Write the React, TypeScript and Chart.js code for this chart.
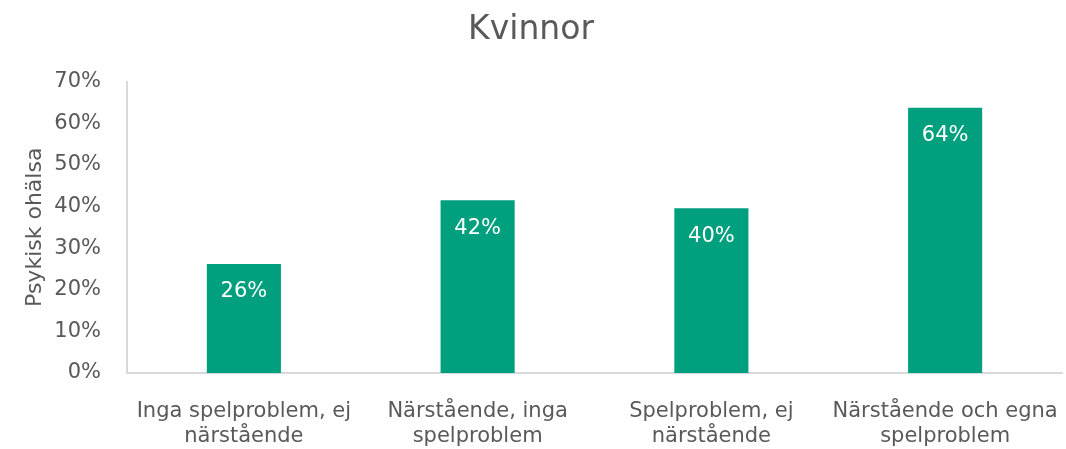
import React, { useEffect, useRef } from "react";
import { Chart, registerables } from "chart.js";

Chart.register(...registerables);

const categories: string[][] = [
  ["Inga spelproblem, ej", "närstående"],
  ["Närstående, inga", "spelproblem"],
  ["Spelproblem, ej", "närstående"],
  ["Närstående och egna", "spelproblem"],
];
const values: number[] = [26.2, 41.5, 39.6, 63.7];
const valueLabels: string[] = ["26%", "42%", "40%", "64%"];
const chartTitle = "Kvinnor";
const yTitle = "Psykisk ohälsa";

const FONT = "'DejaVu Sans', Tahoma, sans-serif";
const GRAY = "#595959";

const labelPlugin = {
  id: "barLabels",
  afterDatasetsDraw(chart: any) {
    const ctx = chart.ctx;
    const meta = chart.getDatasetMeta(0);
    ctx.save();
    ctx.fillStyle = "#ffffff";
    ctx.font = `21px ${FONT}`;
    ctx.textAlign = "center";
    ctx.textBaseline = "middle";
    meta.data.forEach((bar: any, i: number) => {
      ctx.fillText(valueLabels[i], bar.x, bar.y + 28);
    });
    ctx.restore();
  },
};

export default function App() {
  const ref = useRef<HTMLCanvasElement>(null);
  useEffect(() => {
    if (!ref.current) return;
    const chart = new Chart(ref.current, {
      type: "bar",
      data: {
        labels: categories,
        datasets: [
          {
            data: values,
            backgroundColor: "#009F7E",
            barPercentage: 0.634,
            categoryPercentage: 0.5,
          },
        ],
      },
      options: {
        animation: false,
        responsive: false,
        maintainAspectRatio: false,
        layout: { padding: { left: 0, right: 4, top: 0, bottom: 0 } },
        plugins: {
          legend: { display: false },
          tooltip: { enabled: false },
          title: {
            display: true,
            text: chartTitle,
            color: GRAY,
            font: { family: FONT, size: 33, weight: "normal" },
            padding: { top: 11, bottom: 31 },
          },
        },
        scales: {
          x: {
            grid: { display: false },
            border: { display: true, color: "#d9d9d9", width: 2 },
            ticks: {
              color: GRAY,
              font: { family: FONT, size: 21 },
              padding: 18,
              maxRotation: 0,
              autoSkip: false,
            },
            afterFit: (s: any) => {
              s.height = 76;
              s.paddingLeft = 0;
              s.paddingRight = 0;
            },
          },
          y: {
            min: 0,
            max: 70,
            grid: { display: false },
            border: { display: true, color: "#d9d9d9", width: 2 },
            ticks: {
              stepSize: 10,
              color: GRAY,
              font: { family: FONT, size: 21 },
              padding: 18,
              callback: (v: any) => `${v}%`,
            },
            title: {
              display: true,
              text: yTitle,
              color: GRAY,
              font: { family: FONT, size: 22 },
              padding: { top: 22, bottom: 0 },
            },
            afterFit: (s: any) => {
              s.width = 127;
              s.paddingTop = 0;
              s.paddingBottom = 0;
            },
          },
        },
      },
      plugins: [labelPlugin],
    });
    return () => chart.destroy();
  }, []);
  return (
    <div style={{ position: "fixed", left: 0, top: 0, width: 1066, height: 449, background: "#fff" }}>
      <canvas ref={ref} width={1066} height={449} />
    </div>
  );
}
